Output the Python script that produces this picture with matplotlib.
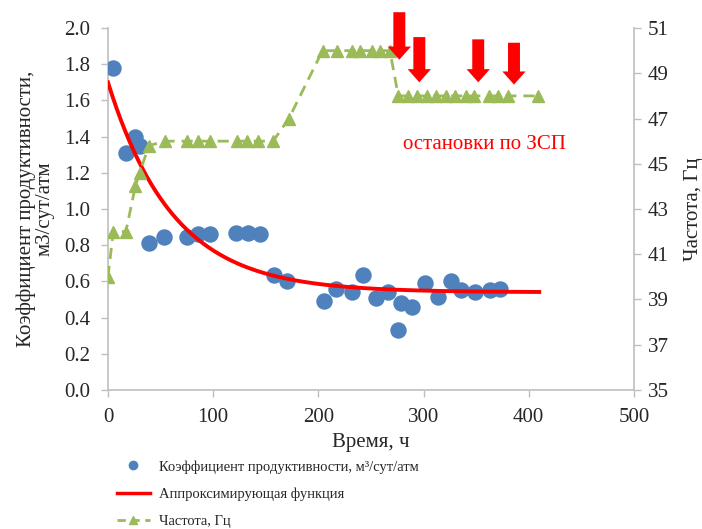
import numpy as np
import matplotlib
matplotlib.use("Agg")
import matplotlib.pyplot as plt
from matplotlib.lines import Line2D

plt.rcParams['font.family'] = ['Liberation Serif', 'DejaVu Serif']

# Productivity index measurements (time, h; m3/day/atm)
pi_time = [5, 17, 26, 30, 39, 53, 75, 86, 97, 122, 133, 145, 158, 170,
           205, 217, 232, 242, 255, 266, 276, 279, 289, 301, 314, 326,
           336, 349, 363, 373]
pi_value = [1.78, 1.31, 1.40, 1.35, 0.81, 0.845, 0.845, 0.86, 0.86, 0.87,
            0.87, 0.86, 0.635, 0.60, 0.49, 0.56, 0.54, 0.635, 0.51, 0.54,
            0.33, 0.48, 0.46, 0.59, 0.515, 0.60, 0.55, 0.54, 0.55, 0.56]

# Exponential approximation: a + b * exp(-t / tau)
fit_a = 0.54
fit_b = 1.16
fit_tau = 62.0
fit_t_end = 410

# Pump frequency (time, h; Hz)
freq_time = [0, 5, 17, 26, 30, 39, 54, 75, 86, 97, 123, 132, 143, 157, 172,
             204, 218, 232, 240, 251, 259, 268,
             276, 285, 294, 303, 312, 321, 330, 340, 348, 362, 371, 380, 409]
freq_value = [40, 42, 42, 44, 44.6, 45.8, 46, 46, 46, 46, 46, 46, 46, 46, 47,
              50, 50, 50, 50, 50, 50, 50,
              48, 48, 48, 48, 48, 48, 48, 48, 48, 48, 48, 48, 48]

# ESP shutdown events (time, h)
stop_time = [277, 296, 352, 386]
stop_top = [51.7, 50.6, 50.5, 50.35]
stop_tip = [49.6, 48.6, 48.6, 48.5]

x_ticks = [0, 100, 200, 300, 400, 500]
y_ticks = [0.0, 0.2, 0.4, 0.6, 0.8, 1.0, 1.2, 1.4, 1.6, 1.8, 2.0]
f_ticks = [35, 37, 39, 41, 43, 45, 47, 49, 51]

BLUE = '#4F81BD'
RED = '#FF0000'
GREEN = '#9BBB59'
AXIS = '#BFBFBF'
TXT = '#262626'
FS = 15.0

fig = plt.figure(figsize=(7.02, 5.29), dpi=100)
ax = fig.add_axes([0.1538, 0.2628, 0.7492, 0.6842])
ax2 = ax.twinx()

ax.scatter(pi_time, pi_value, s=140, color=BLUE, zorder=3, linewidths=0)
t_fit = np.linspace(0, fit_t_end, 300)
ax.plot(t_fit, fit_a + fit_b * np.exp(-t_fit / fit_tau), color=RED, lw=2.8, zorder=4)

ax2.plot(freq_time, freq_value, color=GREEN, lw=2.0, ls=(0, (4, 2.5)),
         marker='^', ms=8.5, mec=GREEN, mfc=GREEN, zorder=3)

for xs, y0, y1 in zip(stop_time, stop_top, stop_tip):
    ax2.annotate('', xy=(xs, y1), xytext=(xs, y0), annotation_clip=False,
                 arrowprops=dict(arrowstyle='simple,head_length=1.1,head_width=1.95,tail_width=1.0',
                                 mutation_scale=8.6, color=RED, lw=0,
                                 shrinkA=0, shrinkB=0), zorder=5)

ax2.text(358, 45.85, 'остановки по ЗСП', color=RED, fontsize=FS,
         ha='center', va='center')

ax.set_xlim(0, 500)
ax.set_ylim(0, 2.0)
ax2.set_ylim(35, 51)
ax.set_xticks(x_ticks)
ax.set_yticks(y_ticks)
ax.set_yticklabels([f'{v:.1f}' for v in y_ticks])
ax2.set_yticks(f_ticks)

for a in (ax, ax2):
    a.spines['top'].set_visible(False)
    for side in ('left', 'right', 'bottom'):
        a.spines[side].set_color(AXIS)
        a.spines[side].set_linewidth(1.2)
    a.tick_params(colors=AXIS, labelcolor=TXT, labelsize=FS, length=5, width=1.0)
ax.tick_params(axis='x', pad=8)
ax.tick_params(axis='y', pad=7.5)
ax2.tick_params(axis='y', pad=5)
ax2.spines['left'].set_visible(False)
ax2.spines['bottom'].set_visible(False)
ax.spines['right'].set_visible(False)

ax.set_xlabel('Время, ч', fontsize=FS, color=TXT, labelpad=4)
ax.set_ylabel('Коэффициент продуктивности,\nм3/сут/атм', fontsize=FS,
              color=TXT, labelpad=7, linespacing=1.0)
ax2.set_ylabel('Частота, Гц', fontsize=FS, color=TXT, labelpad=11)

handles = [
    Line2D([], [], ls='none', marker='o', ms=6, color=BLUE),
    Line2D([], [], color=RED, lw=2.5),
    Line2D([], [], color=GREEN, lw=2.0, ls=(0, (3, 2)), marker='^', ms=6),
]
labels = ['Коэффициент продуктивности, м³/сут/атм',
          'Аппроксимирующая функция',
          'Частота, Гц']
fig.legend(handles, labels, loc='upper left',
           bbox_to_anchor=(0.166, 1 - 460 / 529),
           bbox_transform=fig.transFigure, frameon=False, fontsize=10.5,
           labelcolor=TXT, handlelength=2.3, handletextpad=0.6, labelspacing=0.95,
           borderaxespad=0, borderpad=0)

fig.savefig('out.png', dpi=100)
